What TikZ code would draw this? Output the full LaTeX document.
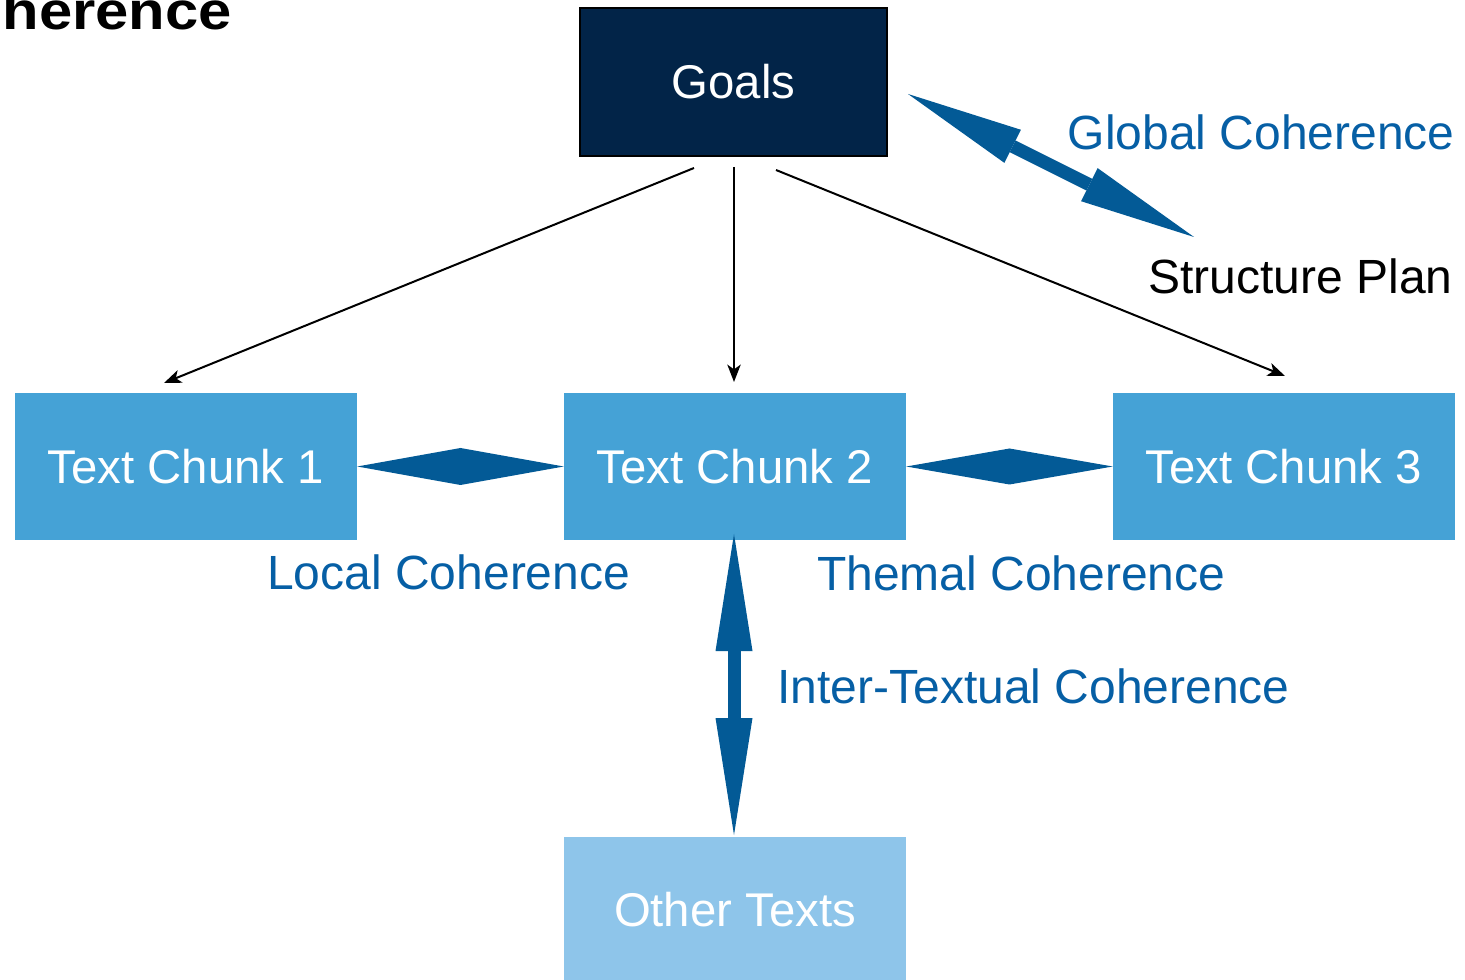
\documentclass[tikz,border=0pt]{standalone}
\usepackage{fontspec}
\setmainfont{Liberation Sans}
\usetikzlibrary{arrows.meta,calc}
\definecolor{goalsfill}{RGB}{2,36,72}
\definecolor{chunkfill}{RGB}{69,162,214}
\definecolor{otherfill}{RGB}{142,197,234}
\definecolor{arrowblue}{RGB}{3,90,150}
\definecolor{labelblue}{RGB}{6,95,165}
\tikzset{
  boxtext/.style={font=\fontsize{35.5}{42}\selectfont},
  labeltext/.style={font=\fontsize{36}{43}\selectfont},
  chunk/.style={fill=chunkfill, text=white, minimum width=342*0.75pt, minimum height=147*0.75pt, inner sep=0pt, boxtext},
  label/.style={inner sep=0pt, labeltext, text=labelblue},
  thinarrow/.style={line width=1.5pt, -{Stealth[length=13pt,width=10pt,inset=3.5pt]}},
  bigarrow/.style={draw=arrowblue, line width=9.75pt, {Triangle[length=87.75pt,width=27.75pt,fill=arrowblue,line width=0pt]}-{Triangle[length=87.75pt,width=27.75pt,fill=arrowblue,line width=0pt]}},
  diamondfill/.style={fill=arrowblue}
}
\begin{document}
\begin{tikzpicture}[x=0.75pt,y=-0.75pt]
\useasboundingbox (0,0) rectangle (1465,980);
% title
\node[anchor=base east, inner sep=0pt, font=\bfseries\fontsize{40}{48}\selectfont] (title) at (232,30) {\scalebox{1.12}[1]{herence}};
% nodes
\node[draw=black, line width=1.5pt, fill=goalsfill, text=white, minimum width=307*0.75pt, minimum height=148*0.75pt, inner sep=0pt, boxtext] (goals) at (733.5,82) {Goals};
\node[chunk] (c1) at (186,466.5) {Text Chunk 1};
\node[chunk] (c2) at (735,466.5) {Text Chunk 2};
\node[chunk] (c3) at (1284,466.5) {Text Chunk 3};
\node[chunk, fill=otherfill] (other) at (735,910) {Other Texts};
% labels
\node[label, anchor=east] (glob) at (1455,132) {Global Coherence};
\node[label, anchor=east, text=black] (plan) at (1453,276) {Structure Plan};
\node[label, anchor=west] (local) at (267,572) {Local Coherence};
\node[label, anchor=west] (themal) at (817,573) {Themal Coherence};
\node[label, anchor=west] (inter) at (777,686) {Inter-Textual Coherence};
% thin arrows
\coordinate (s1) at (694,168);
\coordinate (e1) at (164,383);
\coordinate (s2) at (734,167);
\coordinate (e2) at (734,382);
\coordinate (s3) at (776,170);
\coordinate (e3) at (1285,376);
\draw[thinarrow] (s1) -- (e1);
\draw[thinarrow] (s2) -- (e2);
\draw[thinarrow] (s3) -- (e3);
% global coherence arrow
\coordinate (ga) at (908,94);
\coordinate (gb) at (1194,237);
\draw[bigarrow] (ga) -- (gb);
% inter-textual arrow
\coordinate (ia) at (734,534);
\coordinate (ib) at (734,835);
\draw[bigarrow] (ia) -- (ib);
% diamonds
\fill[diamondfill] (c1.east) -- ($(c1.east)!0.5!(c2.west)+(0,-18.5)$) -- (c2.west) -- ($(c1.east)!0.5!(c2.west)+(0,18.5)$) -- cycle;
\fill[diamondfill] (c2.east) -- ($(c2.east)!0.5!(c3.west)+(0,-18)$) -- (c3.west) -- ($(c2.east)!0.5!(c3.west)+(0,18)$) -- cycle;
\end{tikzpicture}
\end{document}
